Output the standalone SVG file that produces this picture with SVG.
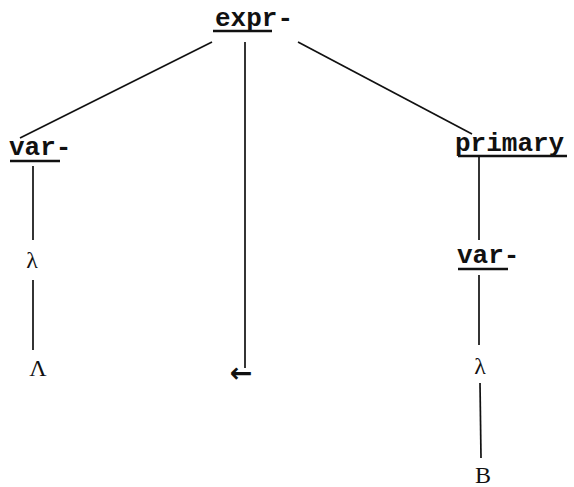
<svg xmlns="http://www.w3.org/2000/svg" width="574" height="487" viewBox="0 0 574 487">
<style>
.t{font-family:"Liberation Mono","Courier New",monospace;font-size:26px;fill:#111;font-weight:bold}
.g{font-family:"Liberation Serif","Times New Roman",serif;font-size:24px;fill:#111}
.a{font-family:"DejaVu Sans",sans-serif;font-size:27px;font-weight:bold;fill:#111}
.u{stroke:#111;stroke-width:2.5}
.e{stroke:#111;stroke-width:1.7;fill:none}
</style>
<rect width="574" height="487" fill="#fff"/>
<g id="connectors">
<line class="e" x1="212" y1="42" x2="20" y2="138"/>
<line class="e" x1="245" y1="42" x2="245" y2="368"/>
<line class="e" x1="298" y1="42" x2="472" y2="134"/>
<line class="e" x1="33" y1="166" x2="33" y2="240"/>
<line class="e" x1="33" y1="280" x2="33" y2="350"/>
<line class="e" x1="479" y1="157" x2="479" y2="240"/>
<line class="e" x1="479" y1="275" x2="479" y2="345"/>
<line class="e" x1="480" y1="383" x2="481" y2="458"/>
</g>
<g id="expr">
<text class="t" x="215" y="26">expr-</text>
<line class="u" x1="213" y1="31" x2="272" y2="31"/>
</g>
<g id="var1">
<text class="t" x="9" y="155">var-</text>
<line class="u" x1="10" y1="161" x2="60" y2="161"/>
</g>
<g id="lambda1"><text class="g" x="32" y="268" text-anchor="middle">λ</text></g>
<g id="Lambda1"><text class="g" x="38" y="376" text-anchor="middle">Λ</text></g>
<g id="arrow"><text class="a" x="241" y="382" text-anchor="middle">←</text></g>
<g id="primary">
<text class="t" x="455" y="151">primary</text>
<line class="u" x1="458" y1="156" x2="567" y2="156"/>
</g>
<g id="var2">
<text class="t" x="457" y="263">var-</text>
<line class="u" x1="458" y1="269" x2="508" y2="269"/>
</g>
<g id="lambda2"><text class="g" x="480" y="374" text-anchor="middle">λ</text></g>
<g id="B"><text class="g" x="483" y="483" text-anchor="middle">B</text></g>
</svg>
